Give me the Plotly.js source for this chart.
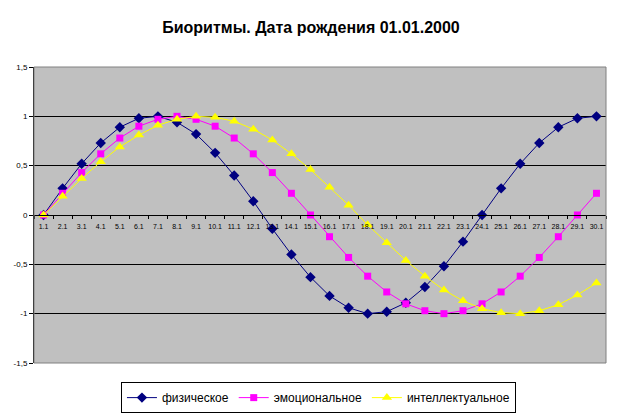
<!DOCTYPE html>
<html><head><meta charset="utf-8">
<script src="https://cdn.plot.ly/plotly-3.0.1.min.js"></script>
<style>html,body{margin:0;padding:0;background:#fff}#chart{width:622px;height:414px}</style>
</head><body><div id="chart"></div>
<script>
const categories = ["1.1","2.1","3.1","4.1","5.1","6.1","7.1","8.1","9.1","10.1","11.1","12.1","13.1","14.1","15.1","16.1","17.1","18.1","19.1","20.1","21.1","22.1","23.1","24.1","25.1","26.1","27.1","28.1","29.1","30.1"];
const physical = [0,0.27,0.52,0.73,0.89,0.98,1.00,0.94,0.82,0.63,0.40,0.14,-0.14,-0.40,-0.63,-0.82,-0.94,-1.00,-0.98,-0.89,-0.73,-0.52,-0.27,0,0.27,0.52,0.73,0.89,0.98,1.00];
const emotional = [0,0.22,0.43,0.62,0.78,0.90,0.97,1.00,0.97,0.90,0.78,0.62,0.43,0.22,0,-0.22,-0.43,-0.62,-0.78,-0.90,-0.97,-1.00,-0.97,-0.90,-0.78,-0.62,-0.43,-0.22,0,0.22];
const intellectual = [0,0.19,0.37,0.54,0.69,0.81,0.91,0.97,1.00,0.99,0.95,0.87,0.76,0.62,0.46,0.28,0.10,-0.10,-0.28,-0.46,-0.62,-0.76,-0.87,-0.95,-0.99,-1.00,-0.97,-0.91,-0.81,-0.69];
const seriesNames = ["физическое","эмоциональное","интеллектуальное"];
const yTickVals = [-1.5,-1,-0.5,0,0.5,1,1.5];
const yTickText = ["-1,5","-1","-0,5","0","0,5","1","1,5"];

const FONT = "Arial, 'Liberation Sans', sans-serif";
const traces = [
  {x: categories, y: physical, name: seriesNames[0], type: "scatter", mode: "lines+markers",
   line: {color: "#000080", width: 1}, marker: {symbol: "diamond", size: 8, color: "#000080"}},
  {x: categories, y: emotional, name: seriesNames[1], type: "scatter", mode: "lines+markers",
   line: {color: "#FF00FF", width: 1}, marker: {symbol: "square", size: 7, color: "#FF00FF"}},
  {x: categories, y: intellectual, name: seriesNames[2], type: "scatter", mode: "lines+markers",
   line: {color: "#FFFF00", width: 1}, marker: {symbol: "triangle-up", size: 9, color: "#FFFF00"}}
];
const layout = {
  width: 622, height: 414,
  margin: {l: 34, r: 16, t: 67, b: 51, pad: 0},
  paper_bgcolor: "#FFFFFF", plot_bgcolor: "#C0C0C0",
  separators: ",.",
  font: {family: FONT, color: "#000"},
  title: {text: "<b>Биоритмы. Дата рождения 01.01.2000</b>", font: {family: FONT, size: 16, color: "#000"},
          x: 0.5, xanchor: "center", y: 0.935, yanchor: "middle"},
  showlegend: true,
  legend: {orientation: "h", x: 0.512, xanchor: "center", xref: "container", yref: "container",
           y: 0.077, yanchor: "top",
           bordercolor: "#000", borderwidth: 1, font: {family: FONT, size: 12, color: "#000"},
           bgcolor: "#FFFFFF", itemwidth: 30, tracegroupgap: 0},
  xaxis: {type: "category", anchor: "free", position: 0.5, showline: true, linecolor: "#000", linewidth: 1,
          ticks: "outside", ticklen: 3, tickcolor: "#000", tickson: "boundaries", ticklabelstandoff: 5,
          showgrid: false, zeroline: false, tickfont: {family: FONT, size: 7, color: "#000"},
          tickangle: 0, range: [-0.5, 29.5], fixedrange: true},
  yaxis: {range: [-1.5, 1.5], tickvals: yTickVals, ticktext: yTickText, showgrid: true, gridcolor: "#000",
          gridwidth: 1, zeroline: false, showline: true, linecolor: "#000", linewidth: 1,
          ticks: "outside", ticklen: 4, tickcolor: "#000", tickfont: {family: FONT, size: 8, color: "#000"},
          fixedrange: true},
  shapes: [{type: "rect", xref: "paper", yref: "paper", x0: 0, x1: 1, y0: 0, y1: 1,
            line: {color: "#808080", width: 1}, layer: "above"}]
};
Plotly.newPlot("chart", traces, layout, {displayModeBar: false, staticPlot: true});
</script></body></html>
